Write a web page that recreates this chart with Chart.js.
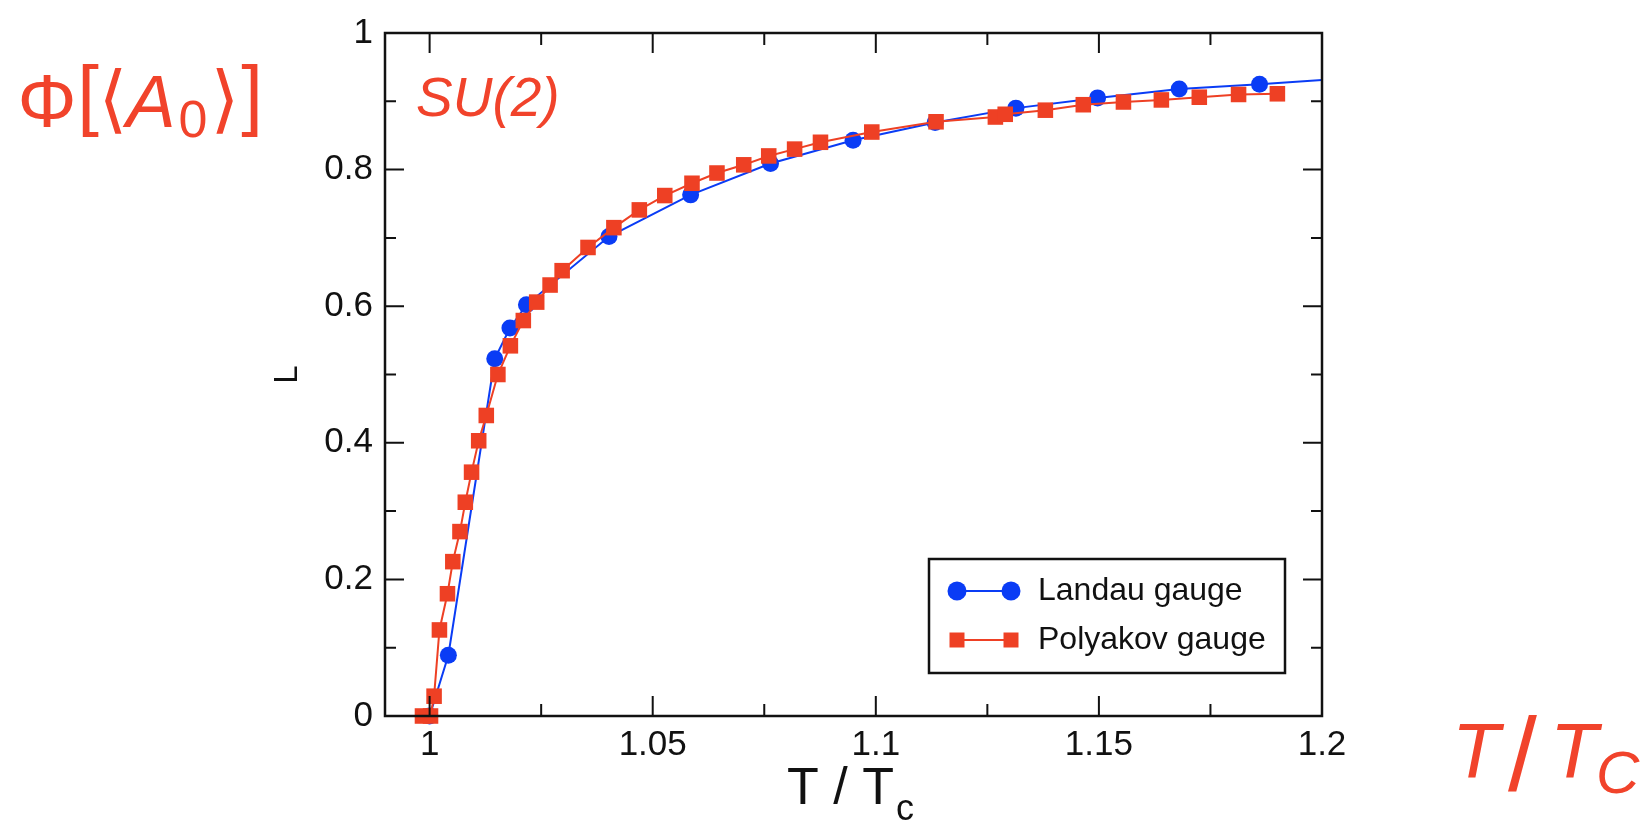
<!DOCTYPE html>
<html>
<head>
<meta charset="utf-8">
<script src="https://cdn.jsdelivr.net/npm/chart.js@4"></script>
<style>
  html, body { margin: 0; padding: 0; background: #fff; }
  #wrap { width: 1640px; height: 821px; position: relative; }
</style>
</head>
<body>
<div id="wrap"><canvas id="graphique"></canvas></div>
<script>
// Landau gauge (blue circles)
const landauT = [1.0, 1.0042, 1.0146, 1.018, 1.0217, 1.0402, 1.0585, 1.0764, 1.0949, 1.1133, 1.1314, 1.1497, 1.168, 1.186, 1.2045];
const landauL = [0.0, 0.089, 0.523, 0.568, 0.602, 0.702, 0.763, 0.809, 0.843, 0.869, 0.890, 0.905, 0.918, 0.925, 0.933];

// Polyakov gauge (red squares)
const polyakovT = [0.9984, 1.0002, 1.001, 1.0022, 1.004, 1.0052, 1.0068, 1.008, 1.0094, 1.011, 1.0127, 1.0153,
  1.0181, 1.021, 1.024, 1.027, 1.0297, 1.0355, 1.0413, 1.047, 1.0527, 1.0588, 1.0644, 1.0704, 1.076, 1.0818,
  1.0876, 1.0991, 1.1135, 1.1268, 1.129, 1.138, 1.1465, 1.1555, 1.164, 1.1725, 1.1813, 1.19];
const polyakovL = [0.0, 0.0, 0.029, 0.126, 0.179, 0.226, 0.270, 0.313, 0.357, 0.403, 0.440, 0.500,
  0.542, 0.579, 0.606, 0.631, 0.652, 0.686, 0.715, 0.741, 0.762, 0.780, 0.795, 0.807, 0.820, 0.830,
  0.840, 0.855, 0.870, 0.877, 0.881, 0.887, 0.895, 0.899, 0.902, 0.906, 0.910, 0.911];

// tick positions (all) and the labelled ones
const xTicks = [1, 1.025, 1.05, 1.075, 1.1, 1.125, 1.15, 1.175, 1.2];
const xTicksMajor = [1, 1.05, 1.1, 1.15, 1.2];
const yTicks = [0, 0.1, 0.2, 0.3, 0.4, 0.5, 0.6, 0.7, 0.8, 0.9, 1];
const yTicksMajor = [0, 0.2, 0.4, 0.6, 0.8, 1];

const bleu = "#0a3cf5";
const rouge = "#ee4024";
const rougeTexte = "#f1432b";
const encre = "#111111";
const police = "'Liberation Sans', Arial, sans-serif";

Chart.defaults.font.family = police;
Chart.defaults.color = encre;

function estMajeur(v, liste) {
  return liste.some((t) => Math.abs(t - v) < 1e-6);
}

function versPoints(xs, ys) {
  return xs.map((x, i) => ({ x: x, y: ys[i] }));
}

// frame and inward ticks on all four sides
const cadre = {
  id: "cadre",
  afterDatasetsDraw(chart) {
    const { ctx, chartArea: a, scales } = chart;
    const x = scales.x, y = scales.y;
    ctx.save();
    ctx.strokeStyle = encre;
    ctx.lineWidth = 2;
    ctx.beginPath();
    x.ticks.forEach((t) => {
      const v = t.value;
      if (v <= x.min + 1e-9 || v >= x.max - 1e-9) return;
      const px = x.getPixelForValue(v);
      const len = estMajeur(v, xTicksMajor) ? 20 : 12;
      ctx.moveTo(px, a.bottom); ctx.lineTo(px, a.bottom - len);
      ctx.moveTo(px, a.top); ctx.lineTo(px, a.top + len);
    });
    y.ticks.forEach((t) => {
      const v = t.value;
      if (v <= y.min + 1e-9 || v >= y.max - 1e-9) return;
      const py = y.getPixelForValue(v);
      const len = estMajeur(v, yTicksMajor) ? 19 : 11;
      ctx.moveTo(a.left, py); ctx.lineTo(a.left + len, py);
      ctx.moveTo(a.right, py); ctx.lineTo(a.right - len, py);
    });
    ctx.stroke();
    ctx.lineWidth = 2.5;
    ctx.strokeRect(a.left, a.top, a.right - a.left, a.bottom - a.top);
    ctx.restore();
  },
};

function dessinerPoint(ctx, style, cx, cy, r, couleur) {
  ctx.fillStyle = couleur;
  ctx.beginPath();
  if (style === "rect") {
    ctx.rect(cx - r, cy - r, 2 * r, 2 * r);
  } else {
    ctx.arc(cx, cy, r, 0, Math.PI * 2);
  }
  ctx.fill();
}

// legend box, axis title with subscript, red annotations
const habillage = {
  id: "habillage",
  afterDraw(chart) {
    const { ctx, chartArea: a } = chart;
    ctx.save();

    // legend
    const bx = a.right - 393, by = a.bottom - 157, bw = 356, bh = 114;
    ctx.strokeStyle = encre;
    ctx.lineWidth = 2.5;
    ctx.strokeRect(bx, by, bw, bh);
    const entrees = [chart.data.datasets[0], chart.data.datasets[1]];
    entrees.forEach((ds, i) => {
      const ly = by + 32 + i * 49;
      const x0 = bx + 28, x1 = bx + 82;
      ctx.strokeStyle = ds.borderColor;
      ctx.lineWidth = 2;
      ctx.beginPath();
      ctx.moveTo(x0, ly); ctx.lineTo(x1, ly);
      ctx.stroke();
      const r = ds.pointStyle === "rect" ? 7.5 : 9.5;
      dessinerPoint(ctx, ds.pointStyle, x0, ly, r, ds.borderColor);
      dessinerPoint(ctx, ds.pointStyle, x1, ly, r, ds.borderColor);
      ctx.fillStyle = encre;
      ctx.font = "32px " + police;
      ctx.textAlign = "left";
      ctx.textBaseline = "alphabetic";
      ctx.fillText(ds.label, bx + 109, ly + 9);
    });

    // x axis title: T / T_c
    const cx = (a.left + a.right) / 2;
    ctx.fillStyle = encre;
    ctx.textBaseline = "alphabetic";
    ctx.textAlign = "left";
    ctx.font = "52px " + police;
    const w1 = ctx.measureText("T / T").width;
    ctx.font = "36px " + police;
    const w2 = ctx.measureText("c").width;
    const sx = cx - (w1 + w2) / 2 - 4;
    ctx.font = "52px " + police;
    ctx.fillText("T / T", sx, 804);
    ctx.font = "36px " + police;
    ctx.fillText("c", sx + w1 + 2, 820);

    // red labels
    ctx.fillStyle = rougeTexte;
    ctx.textAlign = "center";
    ctx.font = "74px " + police;
    ctx.fillText("Φ", 47, 127);
    ctx.font = "78px " + police;
    ctx.fillText("[", 88, 121);
    ctx.fillText("]", 252, 121);
    ctx.font = "74px 'DejaVu Sans', 'Noto Sans CJK SC', sans-serif";
    ctx.fillText("⟨", 113, 124);
    ctx.fillText("⟩", 225, 124);
    ctx.font = "italic 74px " + police;
    ctx.fillText("A", 151, 127);
    ctx.font = "52px " + police;
    ctx.fillText("0", 193, 137);

    ctx.textAlign = "left";
    ctx.font = "italic 55px " + police;
    ctx.fillText("SU(2)", a.left + 31, 116);

    ctx.font = "italic 78px " + police;
    ctx.fillText("T", 1452, 778);
    ctx.fillText("T", 1550, 778);
    ctx.font = "300 104px " + police;
    ctx.fillText("/", 1508, 790);
    ctx.font = "italic 60px " + police;
    ctx.fillText("C", 1596, 793);

    ctx.restore();
  },
};

const ctx = document.getElementById("graphique").getContext("2d");
const chart = new Chart(ctx, {
  type: "scatter",
  data: {
    datasets: [
      {
        label: "Landau gauge",
        data: versPoints(landauT, landauL),
        showLine: true,
        borderColor: bleu,
        backgroundColor: bleu,
        borderWidth: 2,
        pointStyle: "circle",
        pointRadius: 8.5,
        pointHoverRadius: 8.5,
        pointBorderWidth: 0,
        tension: 0,
        order: 1,
        clip: { left: 30, top: 30, right: 0, bottom: 30 },
      },
      {
        label: "Polyakov gauge",
        data: versPoints(polyakovT, polyakovL),
        showLine: true,
        borderColor: rouge,
        backgroundColor: rouge,
        borderWidth: 2,
        pointStyle: "rect",
        pointRadius: 11,
        pointHoverRadius: 11,
        pointBorderWidth: 0,
        tension: 0,
        order: 0,
        clip: { left: 30, top: 30, right: 0, bottom: 30 },
      },
    ],
  },
  options: {
    responsive: true,
    maintainAspectRatio: false,
    animation: false,
    events: [],
    layout: { padding: { left: 0, top: 25, right: 318, bottom: 0 } },
    plugins: {
      legend: { display: false },
      tooltip: { enabled: false },
    },
    scales: {
      x: {
        type: "linear",
        min: 0.99,
        max: 1.2,
        grid: { display: false, drawTicks: false },
        border: { display: false },
        afterBuildTicks: (s) => { s.ticks = xTicks.map((v) => ({ value: v })); },
        ticks: {
          autoSkip: false,
          maxRotation: 0,
          padding: 8,
          font: { size: 35 },
          color: encre,
          callback: (v) => (estMajeur(v, xTicksMajor) ? String(+v.toFixed(3)) : ""),
        },
        afterFit: (s) => { s.height = 105; },
      },
      y: {
        type: "linear",
        min: 0,
        max: 1,
        grid: { display: false, drawTicks: false },
        border: { display: false },
        title: {
          display: true,
          text: "L",
          font: { size: 33 },
          color: encre,
          padding: { top: 268, bottom: 0 },
        },
        afterBuildTicks: (s) => { s.ticks = yTicks.map((v) => ({ value: v })); },
        ticks: {
          autoSkip: false,
          padding: 12,
          font: { size: 35 },
          color: encre,
          callback: (v) => (estMajeur(v, yTicksMajor) ? String(+v.toFixed(3)) : ""),
        },
        afterFit: (s) => { s.width = 385; },
      },
    },
  },
  plugins: [cadre, habillage],
});
</script>
</body>
</html>
